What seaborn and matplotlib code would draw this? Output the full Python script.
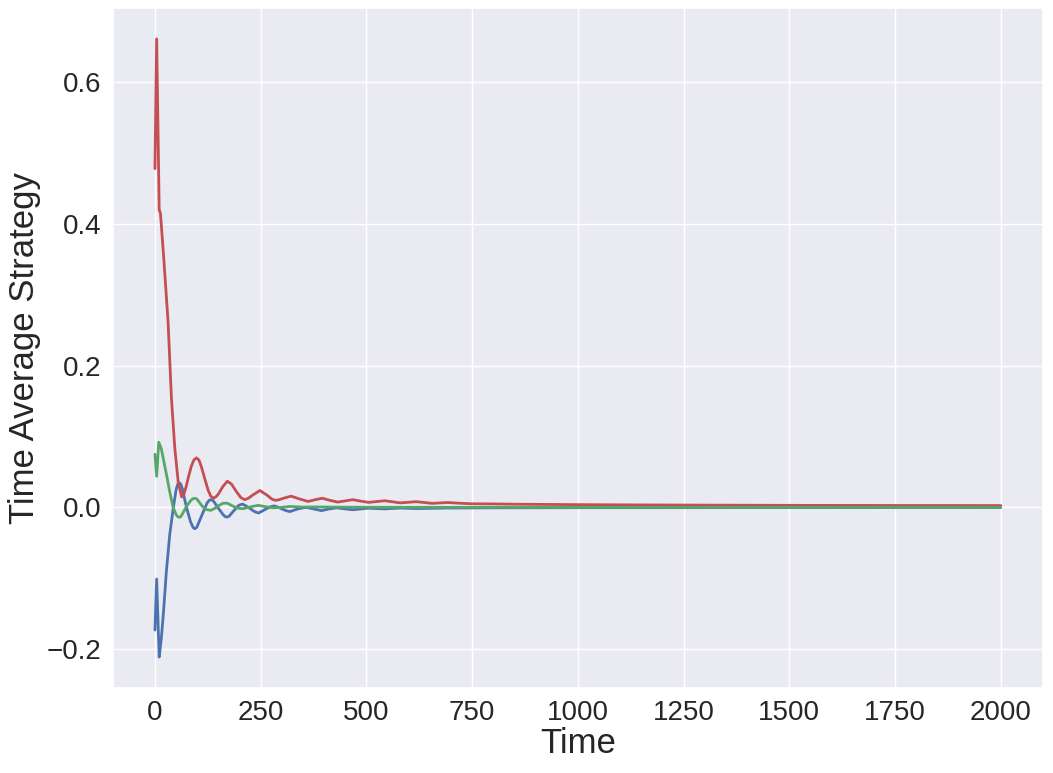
import numpy as np
import pandas as pd
import matplotlib
matplotlib.use("Agg")
import matplotlib.pyplot as plt
import seaborn as sns

# Red series (time, value)
red_t = [0, 4, 10, 13, 21, 31, 39, 47, 55, 63, 68, 74, 80, 86, 92, 98, 104, 110, 118,
         126, 132, 138, 144, 150, 160, 171, 181, 193, 203, 212, 221, 230, 248, 266,
         276, 285, 294, 304, 322, 342, 362, 379, 396, 414, 432, 450, 468, 486, 505,
         524, 543, 562, 580, 599, 618, 637, 655, 674, 692, 720, 750, 800, 850, 900,
         1000, 1150, 1300, 1500, 1750, 2000]
red_v = [0.478, 0.661, 0.420, 0.415, 0.350, 0.262, 0.154, 0.083, 0.036, 0.015,
         0.018, 0.030, 0.045, 0.058, 0.067, 0.070, 0.067, 0.057, 0.040, 0.024,
         0.016, 0.013, 0.015, 0.019, 0.029, 0.037, 0.033, 0.022, 0.014, 0.011,
         0.013, 0.017, 0.024, 0.017, 0.012, 0.010, 0.011, 0.013, 0.016, 0.012,
         0.0085, 0.011, 0.013, 0.010, 0.0076, 0.0093, 0.011, 0.009, 0.0072, 0.0083,
         0.0095, 0.008, 0.0065, 0.0073, 0.0082, 0.007, 0.0058, 0.0064, 0.007, 0.006,
         0.0052, 0.0050, 0.0046, 0.0044, 0.0040, 0.0036, 0.0033, 0.0030, 0.0028,
         0.0027]

# Blue series
blue_t = [0, 4, 10, 15, 20, 27, 35, 43, 50, 54, 57, 61, 66, 70, 76, 84, 90, 94, 99,
          103, 113, 123, 128, 132, 137, 142, 151, 161, 166, 171, 176, 180, 189, 198,
          207, 216, 226, 236, 245, 254, 263, 273, 282, 291, 300, 310, 319, 338, 357,
          375, 394, 412, 430, 449, 468, 505, 543, 580, 618, 692, 800, 1000, 1500, 2000]
blue_v = [-0.173, -0.101, -0.211, -0.185, -0.149, -0.090, -0.038, -0.002, 0.025,
          0.033, 0.035, 0.033, 0.024, 0.012, -0.003, -0.020, -0.028, -0.030, -0.028,
          -0.022, -0.008, 0.006, 0.010, 0.011, 0.010, 0.006, -0.002, -0.010, -0.013,
          -0.0135, -0.012, -0.009, -0.003, 0.003, 0.0048, 0.002, -0.002, -0.006,
          -0.0078, -0.005, -0.002, 0.001, 0.0022, 0.0005, -0.002, -0.0045, -0.0058,
          -0.002, 0.0002, -0.002, -0.0045, -0.002, -0.0005, -0.002, -0.0032, -0.001,
          -0.002, -0.0008, -0.0015, -0.0008, -0.0005, -0.0003, -0.0002, -0.0001]

# Green series
green_t = [0, 4, 9, 15, 22, 28, 35, 43, 50, 54, 57, 61, 66, 75, 85, 90, 94, 99, 104,
           113, 122, 132, 142, 152, 161, 171, 181, 191, 200, 210, 227, 244, 262, 280,
           300, 320, 350, 380, 420, 500, 700, 1000, 2000]
green_v = [0.075, 0.044, 0.092, 0.083, 0.062, 0.044, 0.022, 0.000, -0.010, -0.013,
           -0.014, -0.013, -0.008, 0.002, 0.010, 0.0125, 0.013, 0.012, 0.008, 0.001,
           -0.003, -0.004, -0.001, 0.003, 0.006, 0.006, 0.003, 0.000, -0.0015,
           -0.0015, 0.001, 0.003, 0.001, -0.0005, 0.0002, 0.0015, 0.0005, 0.0008,
           0.0005, 0.0003, 0.0002, 0.0001, 0.0]

sns.set_theme(style="darkgrid")
plt.rcParams['font.family'] = ['Liberation Sans', 'DejaVu Sans']
pal = sns.color_palette("deep")

df = pd.concat([
    pd.DataFrame({"Time": blue_t, "v": blue_v, "s": "blue"}),
    pd.DataFrame({"Time": red_t, "v": red_v, "s": "red"}),
    pd.DataFrame({"Time": green_t, "v": green_v, "s": "green"}),
], ignore_index=True)

fig, ax = plt.subplots(figsize=(10.53, 7.73), dpi=100)
fig.subplots_adjust(left=0.107, right=0.9905, top=0.9897, bottom=0.110)

sns.lineplot(data=df, x="Time", y="v", hue="s",
             palette={"blue": pal[0], "red": pal[3], "green": pal[2]},
             hue_order=["blue", "red", "green"],
             linewidth=2, legend=False, ax=ax, estimator=None, sort=False)

ax.set_xlabel("Time", fontsize=25)
ax.set_ylabel("Time Average Strategy", fontsize=25)
ax.tick_params(axis="y", labelsize=20, pad=2)
ax.tick_params(axis="x", labelsize=20, pad=3)
ax.set_xticks([0, 250, 500, 750, 1000, 1250, 1500, 1750, 2000])
ax.set_yticks([-0.2, 0.0, 0.2, 0.4, 0.6])
ax.yaxis.set_label_coords(-0.077, 0.5)
ax.xaxis.set_label_coords(0.5, -0.057)

fig.savefig("out.png", dpi=100)
